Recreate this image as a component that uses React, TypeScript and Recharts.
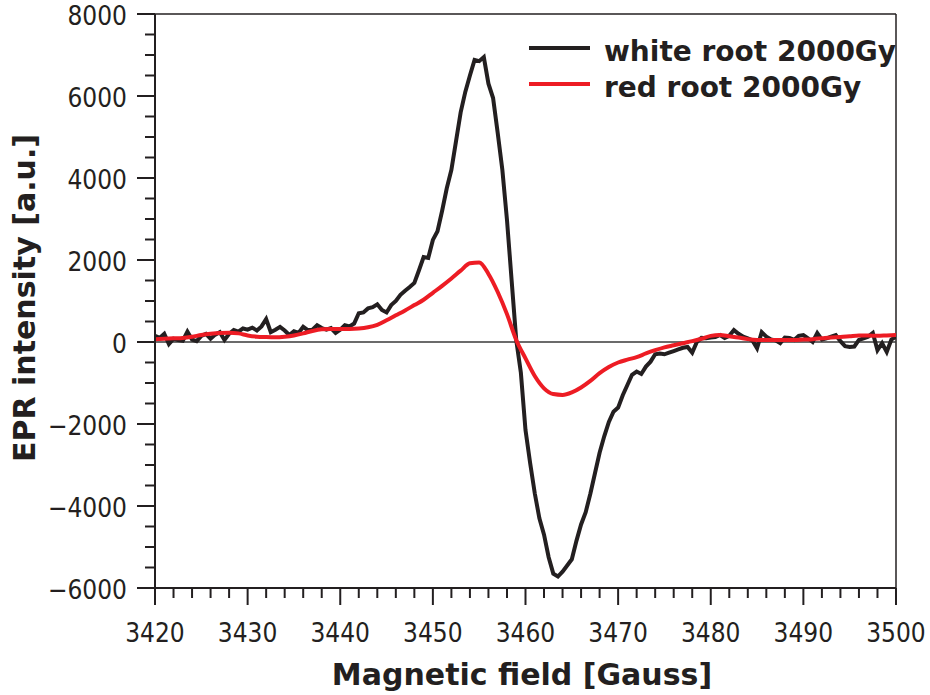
import { LineChart, Line, XAxis, YAxis, ReferenceLine, Legend } from "recharts";

// white root 2000Gy, sampled every 0.5 G
const whiteField = [
  3420, 3420.5, 3421, 3421.5, 3422, 3422.5, 3423, 3423.5, 3424, 3424.5,
  3425, 3425.5, 3426, 3426.5, 3427, 3427.5, 3428, 3428.5, 3429, 3429.5,
  3430, 3430.5, 3431, 3431.5, 3432, 3432.5, 3433, 3433.5, 3434, 3434.5,
  3435, 3435.5, 3436, 3436.5, 3437, 3437.5, 3438, 3438.5, 3439, 3439.5,
  3440, 3440.5, 3441, 3441.5, 3442, 3442.5, 3443, 3443.5, 3444, 3444.5,
  3445, 3445.5, 3446, 3446.5, 3447, 3447.5, 3448, 3448.5, 3449, 3449.5,
  3450, 3450.5, 3451, 3451.5, 3452, 3452.5, 3453, 3453.5, 3454, 3454.5,
  3455, 3455.5, 3456, 3456.5, 3457, 3457.5, 3458, 3458.5, 3459, 3459.5,
  3460, 3460.5, 3461, 3461.5, 3462, 3462.5, 3463, 3463.5, 3464, 3464.5,
  3465, 3465.5, 3466, 3466.5, 3467, 3467.5, 3468, 3468.5, 3469, 3469.5,
  3470, 3470.5, 3471, 3471.5, 3472, 3472.5, 3473, 3473.5, 3474, 3474.5,
  3475, 3475.5, 3476, 3476.5, 3477, 3477.5, 3478, 3478.5, 3479, 3479.5,
  3480, 3480.5, 3481, 3481.5, 3482, 3482.5, 3483, 3483.5, 3484, 3484.5,
  3485, 3485.5, 3486, 3486.5, 3487, 3487.5, 3488, 3488.5, 3489, 3489.5,
  3490, 3490.5, 3491, 3491.5, 3492, 3492.5, 3493, 3493.5, 3494, 3494.5,
  3495, 3495.5, 3496, 3496.5, 3497, 3497.5, 3498, 3498.5, 3499, 3499.5,
  3500,
];
const whiteIntensity = [
  150, 100, 200, -50, 80, 50, 30, 250, 60, 20,
  150, 200, 80, 180, 240, 50, 200, 290, 250, 330,
  300, 350, 280, 380, 560, 240, 300, 370, 280, 170,
  260, 220, 370, 290, 300, 410, 340, 300, 340, 220,
  300, 410, 380, 450, 700, 720, 820, 850, 920, 780,
  720, 900, 1000, 1150, 1250, 1340, 1440, 1750, 2070, 2050,
  2490, 2700, 3200, 3750, 4200, 4900, 5600, 6100, 6500, 6880,
  6850, 6950, 6300, 5950, 5100, 4200, 2980, 1510, 50, -750,
  -2150, -2950, -3690, -4300, -4700, -5250, -5650, -5720, -5600, -5450,
  -5300, -4850, -4450, -4150, -3700, -3200, -2700, -2300, -1950, -1700,
  -1600, -1300, -1050, -800, -720, -780, -600, -480, -300, -280,
  -300, -260, -220, -180, -140, -120, -260, 0, 100, 90,
  110, 120, 170, 100, 150, 290, 200, 130, 90, 40,
  -150, 240, 130, 60, 40, -30, 110, 100, 50, 150,
  170, 90, 0, 220, 60, 90, 130, 170, 20, -100,
  -120, -110, 50, 90, 130, 220, -200, -30, -240, 60,
  130,
];

// red root 2000Gy, sampled every 1 G (smooth trace)
const redField = [
  3420, 3421, 3422, 3423, 3424, 3425, 3426, 3427, 3428, 3429,
  3430, 3431, 3432, 3433, 3434, 3435, 3436, 3437, 3438, 3439,
  3440, 3441, 3442, 3443, 3444, 3445, 3446, 3447, 3448, 3449,
  3450, 3451, 3452, 3453, 3454, 3455, 3456, 3457, 3458, 3459,
  3460, 3461, 3462, 3463, 3464, 3465, 3466, 3467, 3468, 3469,
  3470, 3471, 3472, 3473, 3474, 3475, 3476, 3477, 3478, 3479,
  3480, 3481, 3482, 3483, 3484, 3485, 3486, 3487, 3488, 3489,
  3490, 3491, 3492, 3493, 3494, 3495, 3496, 3497, 3498, 3499,
  3500,
];
const redIntensity = [
  70, 80, 90, 100, 130, 170, 200, 220, 225, 210,
  160, 130, 120, 115, 130, 160, 210, 270, 310, 320,
  320, 320, 330, 360, 420, 530, 650, 770, 900, 1030,
  1200, 1370, 1550, 1740, 1920, 1940, 1660, 1220, 680, 50,
  -400, -830, -1130, -1270, -1290, -1230, -1110, -950, -760, -610,
  -500, -430, -370, -280, -200, -130, -80, -30, 20, 80,
  150, 170, 140, 110, 70, 50, 50, 50, 50, 50,
  60, 70, 90, 110, 120, 140, 160, 160, 150, 160,
  170,
];

const fieldTicks = [
  3420, 3422, 3424, 3426, 3428, 3430, 3432, 3434, 3436, 3438,
  3440, 3442, 3444, 3446, 3448, 3450, 3452, 3454, 3456, 3458,
  3460, 3462, 3464, 3466, 3468, 3470, 3472, 3474, 3476, 3478,
  3480, 3482, 3484, 3486, 3488, 3490, 3492, 3494, 3496, 3498,
  3500,
];
const intensityTicks = [
  -6000, -5500, -5000, -4500, -4000, -3500, -3000, -2500, -2000, -1500,
  -1000, -500, 0, 500, 1000, 1500, 2000, 2500, 3000, 3500,
  4000, 4500, 5000, 5500, 6000, 6500, 7000, 7500, 8000,
];

const whiteRoot = whiteField.map((g, i) => ({ g, v: whiteIntensity[i] }));
const redRoot = redField.map((g, i) => ({ g, v: redIntensity[i] }));

const INK = "#231f20";
const RED = "#ed1c24";
const TICK_FONT = '"DejaVu Sans Condensed", "DejaVu Sans", sans-serif';
const BOLD_FONT = '"DejaVu Sans", Verdana, sans-serif';

const fmt = (v: number) => (v < 0 ? `\u2212${Math.abs(v)}` : `${v}`);

// left axis: long ticks every 2000, short every 500
function YTick(props: any) {
  const { x, y, payload } = props;
  const major = payload.value % 2000 === 0;
  return (
    <g>
      <line x1={x - (major ? 18 : 10)} x2={x} y1={y} y2={y} stroke={INK} strokeWidth={2} />
      {major && (
        <text x={x - 28} y={y + 11} textAnchor="end" fontFamily={TICK_FONT} fontSize={26} fill={INK}>
          {fmt(payload.value)}
        </text>
      )}
    </g>
  );
}

// bottom axis: long ticks every 10 G, short every 2 G
function XTick(props: any) {
  const { x, y, payload } = props;
  const major = payload.value % 10 === 0;
  return (
    <g>
      <line x1={x} x2={x} y1={y} y2={y + (major ? 17 : 10)} stroke={INK} strokeWidth={2} />
      {major && (
        <text x={x} y={y + 54} textAnchor="middle" fontFamily={TICK_FONT} fontSize={26} fill={INK}>
          {payload.value}
        </text>
      )}
    </g>
  );
}

const legendItems = [
  { name: "white root 2000Gy", color: INK },
  { name: "red root 2000Gy", color: RED },
];

function LegendBox() {
  return (
    <svg width={400} height={100} style={{ overflow: "visible" }}>
      {legendItems.map((it, i) => (
        <g key={it.name}>
          <line x1={9} x2={70} y1={28 + i * 36} y2={28 + i * 36} stroke={it.color} strokeWidth={4} />
          <text x={84} y={41 + i * 36} fontFamily={BOLD_FONT} fontWeight="bold" fontSize={28} fill={INK}>
            {it.name}
          </text>
        </g>
      ))}
    </svg>
  );
}

export default function App() {
  return (
    <div style={{ position: "absolute", left: 0, top: 0, background: "#fff" }}>
      <LineChart width={930} height={695} margin={{ top: 14, right: 34, bottom: 0, left: 0 }}>
        <XAxis
          dataKey="g"
          type="number"
          domain={[3420, 3500]}
          ticks={fieldTicks}
          interval={0}
          allowDataOverflow
          height={107}
          tickSize={0}
          tickMargin={0}
          tickLine={false}
          tick={<XTick />}
          axisLine={{ stroke: INK, strokeWidth: 2 }}
        />
        <YAxis
          type="number"
          domain={[-6000, 8000]}
          ticks={intensityTicks}
          interval={0}
          allowDataOverflow
          width={155}
          tickSize={0}
          tickMargin={0}
          tickLine={false}
          tick={<YTick />}
          axisLine={{ stroke: INK, strokeWidth: 2 }}
        />
        {/* thin frame on top and right, plus the zero baseline */}
        <ReferenceLine y={8000} stroke={INK} strokeWidth={1.5} />
        <ReferenceLine x={3500} stroke={INK} strokeWidth={1.5} />
        <ReferenceLine y={0} stroke="#3a3a3a" strokeWidth={1.5} />

        <Line
          data={whiteRoot}
          dataKey="v"
          name="white root 2000Gy"
          type="linear"
          stroke={INK}
          strokeWidth={4}
          dot={false}
          isAnimationActive={false}
        />
        <Line
          data={redRoot}
          dataKey="v"
          name="red root 2000Gy"
          type="monotone"
          stroke={RED}
          strokeWidth={4}
          dot={false}
          isAnimationActive={false}
        />
        <Legend
          layout="horizontal"
          verticalAlign="middle"
          content={<LegendBox />}
          wrapperStyle={{ position: "absolute", left: 520, top: 20, width: 400, height: 100 }}
        />

        <text
          x={522}
          y={685}
          textAnchor="middle"
          fontFamily={BOLD_FONT}
          fontWeight="bold"
          fontSize={30}
          fill={INK}
        >
          Magnetic field [Gauss]
        </text>
        <text
          x={35}
          y={298}
          transform="rotate(-90 35 298)"
          textAnchor="middle"
          fontFamily={BOLD_FONT}
          fontWeight="bold"
          fontSize={30}
          fill={INK}
        >
          EPR intensity [a.u.]
        </text>
      </LineChart>
    </div>
  );
}
